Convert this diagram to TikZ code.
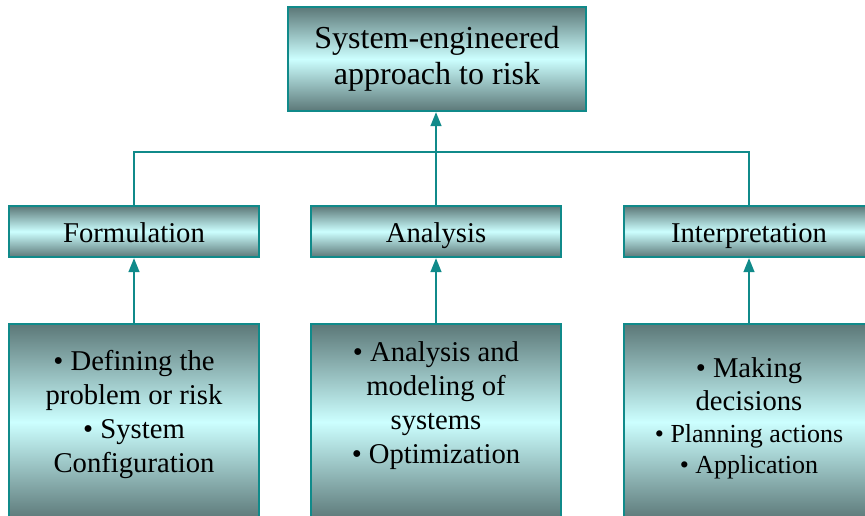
\documentclass[tikz,border=0pt]{standalone}
\usepackage{fontspec}
\setmainfont{Liberation Serif}
\usetikzlibrary{arrows.meta}
\definecolor{teal1}{RGB}{16,138,138}
\definecolor{darkg}{RGB}{92,120,120}
\definecolor{lightc}{RGB}{204,255,255}
\tikzset{
  gbox/.style={draw=teal1, line width=1.6pt, top color=darkg, bottom color=darkg, middle color=lightc, inner sep=0pt},
  midbox/.style={gbox, minimum width=250*0.75pt, minimum height=51*0.75pt, font=\fontsize{21.5}{25}\selectfont, text height=21pt, text depth=3.8pt},
  conn/.style={draw=teal1, line width=1.6pt},
  arr/.style={conn, -{Triangle[length=10.5pt,width=8pt]}},
  txt/.style={align=center, text=black, inner sep=0pt}
}
\begin{document}
\begin{tikzpicture}[x=0.75pt,y=-0.75pt]
\useasboundingbox (0,0) rectangle (865,515);
\clip (0,0) rectangle (865,515);
% top box
\node[gbox, minimum width=298*0.75pt, minimum height=104*0.75pt, font=\fontsize{24}{27}\selectfont, align=center] (top) at (437,59) {System-engineered\\approach to risk};
% middle boxes
\node[midbox] (form) at (134,231.5) {Formulation};
\node[midbox] (anal) at (436,231.5) {Analysis};
\node[midbox] (interp) at (749,231.5) {Interpretation};
% bottom boxes
\node[gbox, minimum width=250*0.75pt, minimum height=196*0.75pt] (b1) at (134,422) {};
\node[gbox, minimum width=250*0.75pt, minimum height=196*0.75pt] (b2) at (436,422) {};
\node[gbox, minimum width=250*0.75pt, minimum height=196*0.75pt] (b3) at (749,422) {};
\node[txt, font=\fontsize{21.5}{25.5}\selectfont] (t1) at (134,414) {• Defining the\\problem or risk\\• System\\Configuration};
\node[txt, font=\fontsize{21.5}{25.5}\selectfont] (t2) at (436,406) {• Analysis and\\modeling of\\systems\\• Optimization};
\node[txt, font=\fontsize{21.5}{25}\selectfont] (t3a) at (749,384.5) {• Making\\decisions};
\node[txt, font=\fontsize{19.5}{23.5}\selectfont] (t3b) at (749,451.5) {• Planning actions\\• Application};
% connectors
\coordinate (hl) at (134,152);
\coordinate (hr) at (749,152);
\draw[conn] (form.north) -- (hl) -- (hr) -- (interp.north);
\draw[arr] (anal.north) -- (anal.north |- top.south);
\draw[arr] (b1.north) -- (form.south);
\draw[arr] (b2.north) -- (anal.south);
\draw[arr] (b3.north) -- (interp.south);
\end{tikzpicture}
\end{document}
